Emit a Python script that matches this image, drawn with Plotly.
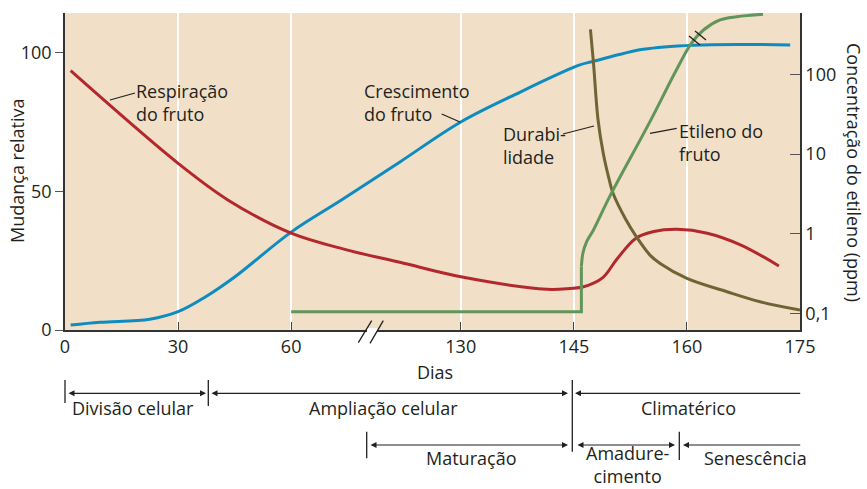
import numpy as np
import plotly.graph_objects as go

# x axis is broken (0-60, 60-130 compressed, 130-175) -> piecewise day scale
tick_days = [0, 30, 60, 130, 145, 160, 175]
tick_pos = [0, 1, 2, 3.5, 4.5, 5.5, 6.5]

# Crescimento do fruto (mudança relativa)
grow_days = [1.5, 9.3, 22.5, 30, 37.1, 45.1, 60, 81.4, 104.9, 130, 137.9, 143.2, 145.8, 147.5, 154.2, 160.8, 173.7]
grow_vals = [1.8, 2.8, 3.9, 6.6, 11.8, 19.2, 35.3, 47.2, 60.6, 75.0, 85.8, 92.6, 95.6, 96.8, 101.2, 102.7, 102.8]

# Respiração do fruto
resp_days = [1.5, 30, 43.2, 60, 82.9, 104.9, 130, 141.4, 144.5, 146.3, 148.8, 150.7, 153.2, 155.6, 158.7, 162.7, 167.1, 172.2]
resp_vals = [93.5, 60.1, 46.9, 34.9, 28.9, 24.4, 19.2, 14.7, 15.0, 15.6, 18.8, 25.5, 33.0, 35.5, 36.3, 34.9, 30.7, 23.1]

# Durabilidade
dur_days = [147.2, 147.6, 148.2, 148.9, 149.7, 150.2, 151.8, 153.3, 155.1, 156.4, 160.0, 165.3, 169.7, 175]
dur_vals = [108.4, 96.4, 76.0, 63.7, 54.1, 49.3, 40.3, 33.6, 27.0, 24.1, 18.6, 13.8, 10.2, 7.2]

# Etileno do fruto (ppm, eixo log à direita)
eth_base_days = [60, 146.0, 146.0]
eth_base_ppm = [0.106, 0.106, 0.388]
eth_days = [146.0, 146.2, 146.7, 147.6, 149.8, 155.1, 158.6, 160.6, 162.2, 164.4, 166.6, 170.1]
eth_ppm = [0.388, 0.571, 0.798, 1.12, 2.99, 25.5, 113, 245, 359, 480, 527, 565]

left_ticks = [0, 50, 100]
right_ticks = [0.1, 1, 10, 100]
right_labels = ["0,1", "1", "10", "100"]


def xs(days):
    return np.interp(days, tick_days, tick_pos)


# pixel helpers for decorations (plot area 65..800 x 13..330)
def px(x):
    return (x - 65) / 735


def py(y):
    return (330 - y) / 317


BG = "#f1dfc8"
INK = "#231f20"
FONT = "Open Sans"

fig = go.Figure()

fig.add_trace(go.Scatter(x=xs(grow_days), y=grow_vals, mode="lines",
                         line=dict(color="#0e8cbf", width=3, shape="spline")))
fig.add_trace(go.Scatter(x=xs(resp_days), y=resp_vals, mode="lines",
                         line=dict(color="#b3282d", width=3, shape="spline")))
fig.add_trace(go.Scatter(x=xs(dur_days), y=dur_vals, mode="lines",
                         line=dict(color="#6e6535", width=3, shape="spline")))
fig.add_trace(go.Scatter(x=xs(eth_base_days), y=eth_base_ppm, mode="lines", yaxis="y2",
                         line=dict(color="#61955a", width=3)))
fig.add_trace(go.Scatter(x=xs(eth_days), y=eth_ppm, mode="lines", yaxis="y2",
                         line=dict(color="#61955a", width=3, shape="spline")))

shapes = []
# breaks in the white grid lines behind labels
for x0, x1, y0, y1 in [(170, 186, 77, 125), (455, 469, 77, 118),
                       (568, 580, 118, 168), (682, 694, 110, 167)]:
    shapes.append(dict(type="rect", xref="paper", yref="paper", layer="between",
                       x0=px(x0), x1=px(x1), y0=py(y1), y1=py(y0),
                       fillcolor=BG, line=dict(width=0)))

# leader lines
for (x0, y0, x1, y1) in [(110, 100, 135, 93), (441.7, 114, 460, 122),
                         (563, 134, 594, 126), (650, 133.3, 676.7, 128.3)]:
    shapes.append(dict(type="line", xref="paper", yref="paper",
                       x0=px(x0), y0=py(y0), x1=px(x1), y1=py(y1),
                       line=dict(color=INK, width=1.2)))

# break marks on the ethylene curve and the x axis
shapes.append(dict(type="rect", xref="paper", yref="paper", layer="above",
                   x0=px(367), x1=px(377), y0=py(332), y1=py(328),
                   fillcolor="white", line=dict(width=0)))
for (x0, y0, x1, y1) in [(689, 36, 700, 45), (695, 31, 706, 40),
                         (358.3, 342.7, 371.7, 320.7), (370, 343.3, 383.3, 320.7)]:
    shapes.append(dict(type="line", xref="paper", yref="paper", layer="above",
                       x0=px(x0), y0=py(y0), x1=px(x1), y1=py(y1),
                       line=dict(color=INK, width=1.3)))

# vertical bars of the phase timeline
for (x, y0, y1) in [(65, 380, 403), (208.3, 380, 406), (572.3, 380, 451.7),
                    (366.7, 431.7, 458.3), (679.3, 431.7, 460)]:
    shapes.append(dict(type="line", xref="paper", yref="paper",
                       x0=px(x), x1=px(x), y0=py(y0), y1=py(y1),
                       line=dict(color=INK, width=1.3)))

annotations = []


def label(x, y, text, anchor="left", size=18, yanchor="middle"):
    annotations.append(dict(xref="paper", yref="paper", x=px(x), y=py(y), text=text,
                            showarrow=False, xanchor=anchor, yanchor=yanchor, align=anchor,
                            font=dict(family=FONT, size=size, color=INK), borderpad=0))


label(135, 102, "Respiração<br>do fruto")
label(363, 102, "Crescimento<br>do fruto")
label(501.7, 145, "Durabi-<br>lidade")
label(678.3, 142, "Etileno do<br>fruto")

label(435, 372, "Dias", anchor="center")
label(132.5, 408, "Divisão celular", anchor="center")
label(383, 408, "Ampliação celular", anchor="center")
label(688, 408, "Climatérico", anchor="center")
label(471, 458, "Maturação", anchor="center")
label(628, 489, "Amadure-<br>cimento", anchor="center", yanchor="bottom")
label(755.5, 458, "Senescência", anchor="center")

annotations.append(dict(xref="paper", yref="paper", x=px(17), y=py(170), text="Mudança relativa",
                        showarrow=False, textangle=-90, xanchor="center", yanchor="middle",
                        font=dict(family=FONT, size=18, color=INK)))
annotations.append(dict(xref="paper", yref="paper", x=px(854), y=py(172), text="Concentração do etileno (ppm)",
                        showarrow=False, textangle=90, xanchor="center", yanchor="middle",
                        font=dict(family=FONT, size=18, color=INK)))


def arrow(x0, x1, y, side):
    # head at x1 (end), tail at x0
    annotations.append(dict(xref="paper", yref="paper", x=px(x1), y=py(y),
                            ax=x0 - x1, ay=0, text="", showarrow=True,
                            arrowhead=2, startarrowhead=2, arrowside=side,
                            arrowsize=1, arrowwidth=1.2, arrowcolor=INK,
                            standoff=0, startstandoff=0))


arrow(67, 206, 393.3, "end+start")
arrow(210, 568, 393.3, "end+start")
arrow(801.7, 575, 393.3, "end")
arrow(369, 568, 445, "end+start")
arrow(576, 675, 445, "end+start")
arrow(801.7, 683, 445, "end")

axis_font = dict(family=FONT, size=18, color=INK)

fig.update_layout(
    width=867, height=489,
    margin=dict(l=65, r=67, t=13, b=159),
    paper_bgcolor="white", plot_bgcolor=BG,
    showlegend=False,
    xaxis=dict(range=[0, 6.5], tickvals=xs(tick_days), ticktext=[str(d) for d in tick_days],
               ticks="inside", ticklen=8, tickcolor="#444", tickwidth=1.3,
               showline=True, linecolor="#333", linewidth=1.5,
               showgrid=True, gridcolor="white", gridwidth=1.5, zeroline=False,
               tickfont=axis_font),
    yaxis=dict(range=[0, 114.3], tickvals=left_ticks, ticks="outside", ticklen=8,
               tickcolor="#555", tickwidth=1.3, showline=True, linecolor="#333", linewidth=1.5,
               showgrid=False, zeroline=False, tickfont=axis_font),
    yaxis2=dict(overlaying="y", side="right", type="log", range=[-1.2045, 2.768],
                tickvals=right_ticks, ticktext=right_labels, ticks="inside", ticklen=10,
                tickcolor="#555", tickwidth=1.3, showline=True, linecolor="#333", linewidth=1.5,
                showgrid=False, zeroline=False, tickfont=axis_font),
    shapes=shapes,
    annotations=annotations,
)

fig.write_html("out.html", config={"displayModeBar": False},
               post_script="document.body.style.margin='0';")
